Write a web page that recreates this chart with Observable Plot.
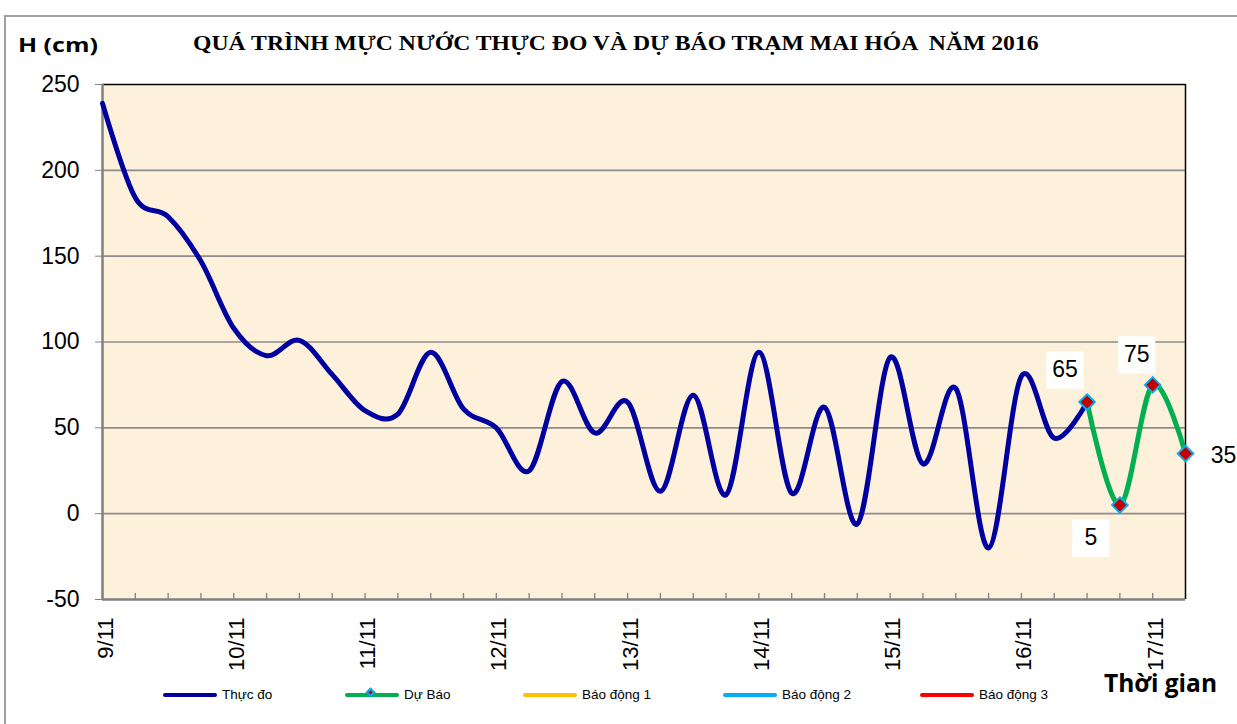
<!DOCTYPE html>
<html>
<head>
<meta charset="utf-8">
<script src="https://cdn.jsdelivr.net/npm/d3@7"></script>
<script src="https://cdn.jsdelivr.net/npm/@observablehq/plot@0.6"></script>
<style>
  html, body { margin: 0; padding: 0; background: #fff; }
  #wrap { position: relative; width: 1237px; height: 724px; overflow: hidden; font-family: "Liberation Sans", Arial, sans-serif; }
  #border { position: absolute; left: 4px; top: 15px; width: 1240px; height: 720px; border-top: 2px solid #a0a0a0; border-left: 2px solid #a0a0a0; }
  #title { position: absolute; top: 30px; left: 193px; font-family: "Liberation Serif", "Times New Roman", serif; font-weight: bold; font-size: 22px; white-space: pre; color: #000; transform: scaleX(1.076); transform-origin: left top; }
  #ylab { position: absolute; top: 31px; left: 18px; font-family: "Open Sans", sans-serif; font-weight: bold; font-size: 20px; color: #000; transform: scaleX(1.25); transform-origin: left top; white-space: pre; }
  #xlab { position: absolute; top: 666px; left: 1104px; font-family: "Open Sans", sans-serif; font-weight: bold; font-size: 24.5px; color: #000; white-space: pre; }
  .leg { position: absolute; top: 687px; display: flex; align-items: center; font-size: 13.5px; color: #000; white-space: pre; }
  .leg .sw { position: relative; width: 54px; height: 4px; border-radius: 2px; margin-right: 5px; }
  .leg .mk { position: absolute; left: 22px; top: -4px; width: 7px; height: 7px; background: #c00000; border: 2px solid #00b0f0; transform: rotate(45deg); box-sizing: border-box; }
  svg { position: absolute; left: 0; top: 0; }
</style>
</head>
<body>
<div id="wrap">
  <div id="border"></div>
  <div id="title"></div>
  <div id="ylab"></div>
  <div id="xlab"></div>
  <div id="legend"></div>
</div>
<script>
// ---- data (6-hourly steps from 9/11 00h) ----
const observedValues = [239,184,173,147,108,92,101,81,60,58,94,61,50,25,77,47,65,13,69,11,94,12,62,-6,91,29,73,-20,80,44,65];
const forecastValues = [65,5,75,35];
const forecastStart = 30;
const stepCount = 33;
const dayTickSteps = [0,4,8,12,16,20,24,28,32];
const dayTickLabels = ["9/11","10/11","11/11","12/11","13/11","14/11","15/11","16/11","17/11"];
const yTicks = [-50,0,50,100,150,200,250];
const gridValues = [0,50,100,150,200];
const titleText = "QUÁ TRÌNH MỰC NƯỚC THỰC ĐO VÀ DỰ BÁO TRẠM MAI HÓA  NĂM 2016";
const yAxisTitle = "H (cm)";
const xAxisTitle = "Thời gian";
const legendNames = ["Thực đo","Dự Báo","Báo động 1","Báo động 2","Báo động 3"];
const legendColors = ["#0000a0","#00b050","#ffc000","#00b0f0","#ff0000"];
const legendLefts = [163,345,523,723,920];

const observed = observedValues.map((v, i) => ({step: i, value: v}));
const forecast = forecastValues.map((v, i) => ({step: forecastStart + i, value: v}));
const allSteps = d3.range(0, stepCount + 1);

const W = 1237, H = 724;
const mTop = 84, mBottom = 125, mLeft = 102, mRight = 52;
const innerH = H - mTop - mBottom;

const labelOffsets = [
  {dx: -22, dy: -32, box: true},
  {dx: -29, dy: 33, box: true},
  {dx: -16, dy: -30, box: true},
  {dx: 38, dy: 2, box: false}
];

const labelMarks = forecast.flatMap((d, i) => {
  const o = labelOffsets[i];
  const marks = [];
  if (o.box) marks.push(Plot.dot([d], {x: "step", y: "value", dx: o.dx, dy: o.dy, symbol: "square", r: 21, fill: "white", stroke: "none"}));
  marks.push(Plot.text([d], {x: "step", y: "value", text: d => String(d.value), dx: o.dx, dy: o.dy, fontSize: 23, fill: "#000"}));
  return marks;
});

const chart = Plot.plot({
  width: W,
  height: H,
  marginTop: mTop,
  marginBottom: mBottom,
  marginLeft: mLeft,
  marginRight: mRight,
  style: {fontFamily: "'Liberation Sans', Arial, sans-serif", fontSize: "22px", background: "transparent", overflow: "visible", color: "#000"},
  x: {domain: [0, stepCount]},
  y: {domain: [-50, 250]},
  marks: [
    Plot.frame({fill: "#fef1dc", stroke: "none"}),
    Plot.ruleY(gridValues, {stroke: "#8c8c8c", strokeWidth: 1.6}),
    Plot.ruleX(allSteps, {stroke: "#808080", strokeWidth: 1.3, insetTop: innerH - 6}),
    Plot.ruleY([250], {stroke: "#000", strokeWidth: 1.5}),
    Plot.ruleX([stepCount], {stroke: "#000", strokeWidth: 1.5}),
    Plot.ruleY([-50], {stroke: "#808080", strokeWidth: 2.5}),
    Plot.ruleX([0], {stroke: "#808080", strokeWidth: 2.5}),
    Plot.axisY({ticks: yTicks, tickFormat: d => String(d), tickSize: 7, tickPadding: 16, stroke: "#808080", fontSize: 23, label: null}),
    Plot.axisX({ticks: dayTickSteps, tickFormat: s => dayTickLabels[dayTickSteps.indexOf(s)], tickRotate: -90, tickSize: 0, tickPadding: 18, dx: 3, fontSize: 22, label: null}),
    Plot.line(observed, {x: "step", y: "value", stroke: "#0000a0", strokeWidth: 5, curve: "cardinal", tension: 0}),
    Plot.line(forecast, {x: "step", y: "value", stroke: "#00b050", strokeWidth: 5, curve: "cardinal", tension: 0}),
    Plot.dot(forecast, {x: "step", y: "value", symbol: "diamond2", r: 7, fill: "#c00000", stroke: "#00b0f0", strokeWidth: 2}),
    ...labelMarks
  ]
});
document.getElementById("wrap").appendChild(chart);

document.getElementById("title").textContent = titleText;
document.getElementById("ylab").textContent = yAxisTitle;
document.getElementById("xlab").textContent = xAxisTitle;

const legend = document.getElementById("legend");
legendNames.forEach((name, i) => {
  const item = document.createElement("div");
  item.className = "leg";
  item.style.left = legendLefts[i] + "px";
  const sw = document.createElement("div");
  sw.className = "sw";
  sw.style.background = legendColors[i];
  if (i === 1) { const mk = document.createElement("div"); mk.className = "mk"; sw.appendChild(mk); }
  item.appendChild(sw);
  const lab = document.createElement("span");
  lab.textContent = name;
  item.appendChild(lab);
  legend.appendChild(item);
});
</script>
</body>
</html>
